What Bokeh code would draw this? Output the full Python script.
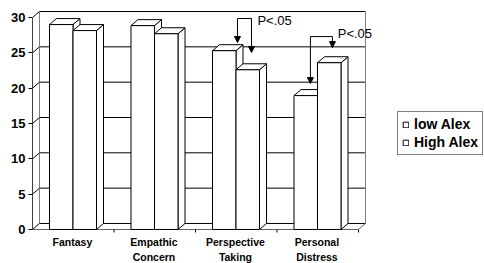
from bokeh.plotting import figure
from bokeh.models import (Range1d, LinearAxis, FixedTicker, Legend, LegendItem,
                          ColumnDataSource, Arrow, NormalHead)
from bokeh.embed import file_html
from bokeh.resources import INLINE
from bokeh.core.properties import value

# ---------------- data ----------------
categories = ["Fantasy", "Empathic\nConcern", "Perspective\nTaking", "Personal\nDistress"]
series_names = ["low Alex", "High Alex"]
low_alex = [29.0, 28.85, 25.3, 18.95]
high_alex = [28.15, 27.7, 22.6, 23.6]
y_ticks = [0, 5, 10, 15, 20, 25, 30]

# significance annotations (category units / value units)
sig_text = ["P<.05", "P<.05"]
sig_x_left = [2.515, 3.41]
sig_x_right = [2.687, 3.68]
sig_top = [29.86, 27.3]
sig_end_left = [26.46, 20.65]
sig_end_right = [25.05, 25.74]
sig_text_x = [2.76, 3.745]
sig_text_y = [29.55, 27.7]

# ---------------- geometry (style) ----------------
n = len(categories)
PX_X = 81.5          # pixels per category
PX_Y = 35.33 / 5     # pixels per value unit
DDX = 7.0 / PX_X     # depth offset in x units
DDY = 6.0 / PX_Y     # depth offset in y units
OFF = 17.0 / PX_X    # gap before first bar in each category
BW = 23.5 / PX_X     # bar width
FIG_W, FIG_H = 484, 263
LEFT = 32
TOP_PAD = 17         # pixels above the front 30 tick

FONT = "Liberation Sans"

y_end = max(y_ticks) + TOP_PAD / PX_Y
y_start = y_end - FIG_H / PX_Y
p = figure(width=FIG_W, height=FIG_H,
           x_range=Range1d(0, (FIG_W - LEFT) / PX_X),
           y_range=Range1d(y_start, y_end),
           output_backend="svg", toolbar_location=None,
           x_axis_type=None, y_axis_type=None,
           min_border_left=LEFT, min_border_right=0,
           min_border_top=0, min_border_bottom=0)
p.outline_line_color = None
p.background_fill_color = "white"
p.border_fill_color = "white"

top_tick = max(y_ticks)
right_edge = float(n)

# back wall gridlines
p.segment(x0=[DDX] * len(y_ticks), y0=[t + DDY for t in y_ticks],
          x1=[right_edge + DDX] * len(y_ticks), y1=[t + DDY for t in y_ticks],
          line_color="black", line_width=1)
# back wall vertical edges
p.segment(x0=[DDX, right_edge + DDX], y0=[DDY, DDY],
          x1=[DDX, right_edge + DDX], y1=[top_tick + DDY, top_tick + DDY],
          line_color="#808080", line_width=1)
# left wall diagonals
p.segment(x0=[0] * len(y_ticks), y0=y_ticks,
          x1=[DDX] * len(y_ticks), y1=[t + DDY for t in y_ticks],
          line_color="black", line_width=1)
# floor front edge and right diagonal
p.segment(x0=[0, right_edge], y0=[0, 0], x1=[right_edge, right_edge + DDX], y1=[0, DDY],
          line_color="#606060", line_width=1)
# floor category ticks
p.segment(x0=list(range(1, n + 1)), y0=[0] * n, x1=list(range(1, n + 1)), y1=[-3.0 / PX_Y] * n,
          line_color="black", line_width=1)


def bar_sources(vals, k):
    lefts = [i + OFF + k * BW for i in range(n)]
    rights = [l + BW for l in lefts]
    front = ColumnDataSource(dict(left=lefts, right=rights, top=vals, bottom=[0] * n))
    side_xs = [[r, r + DDX, r + DDX, r] for r in rights]
    side_ys = [[0, DDY, v + DDY, v] for v in vals]
    top_xs = [[l, r, r + DDX, l + DDX] for l, r in zip(lefts, rights)]
    top_ys = [[v, v, v + DDY, v + DDY] for v in vals]
    return front, dict(xs=side_xs, ys=side_ys), dict(xs=top_xs, ys=top_ys)


legend_renderers = []
for k, vals in enumerate([low_alex, high_alex]):
    front, side, top = bar_sources(vals, k)
    p.patches(xs=side["xs"], ys=side["ys"], fill_color="white", line_color="black", line_width=1)
    p.patches(xs=top["xs"], ys=top["ys"], fill_color="white", line_color="black", line_width=1)
    r = p.quad(left="left", right="right", top="top", bottom="bottom", source=front,
               fill_color="white", line_color="black", line_width=1)
    legend_renderers.append(r)

# significance brackets
p.segment(x0=sig_x_left, y0=sig_top, x1=sig_x_right, y1=sig_top, line_color="black", line_width=1)
for xl, xr, t, el, er in zip(sig_x_left, sig_x_right, sig_top, sig_end_left, sig_end_right):
    for xx, ee in ((xl, el), (xr, er)):
        p.add_layout(Arrow(x_start=xx, y_start=t, x_end=xx, y_end=ee, line_color="black", line_width=1,
                           end=NormalHead(size=6, fill_color="black", line_color="black")))
p.text(x=sig_text_x, y=sig_text_y, text=sig_text, text_font=value(FONT), text_font_size="13px",
       text_baseline="middle", text_align="left", text_color="black")

# category labels under the floor
centers = [i + 0.49 for i in range(n)]
p.text(x=centers, y=[-7.0 / PX_Y] * n, text=categories, text_font=value(FONT),
       text_font_style="bold", text_font_size="10.5px", text_line_height=1.2,
       text_baseline="top", text_align="center", text_color="black")

# y axis
yax = LinearAxis(ticker=FixedTicker(ticks=y_ticks), bounds=(0, top_tick))
yax.axis_line_color = "#404040"
yax.major_tick_in = 0
yax.major_tick_out = 4
yax.major_tick_line_color = "black"
yax.minor_tick_line_color = None
yax.minor_tick_out = 0
yax.major_label_standoff = 3
yax.major_label_text_font = FONT
yax.major_label_text_font_style = "bold"
yax.major_label_text_font_size = "13px"
yax.major_label_text_color = "black"
p.add_layout(yax, "left")

# legend (uses the bar renderers for its swatches)
legend = Legend(items=[LegendItem(label=nm, renderers=[r]) for nm, r in zip(series_names, legend_renderers)],
                location=(365, 108))
legend.border_line_color = "black"
legend.border_line_width = 1
legend.background_fill_color = "white"
legend.background_fill_alpha = 1
legend.label_text_font = FONT
legend.label_text_font_style = "bold"
legend.label_text_font_size = "14px"
legend.label_text_color = "black"
legend.glyph_width = 7
legend.glyph_height = 7
legend.label_standoff = 5
legend.label_height = 16
legend.padding = 4
legend.spacing = 2
legend.margin = 0
p.add_layout(legend)

open("out.html", "w").write(file_html(p, INLINE))
